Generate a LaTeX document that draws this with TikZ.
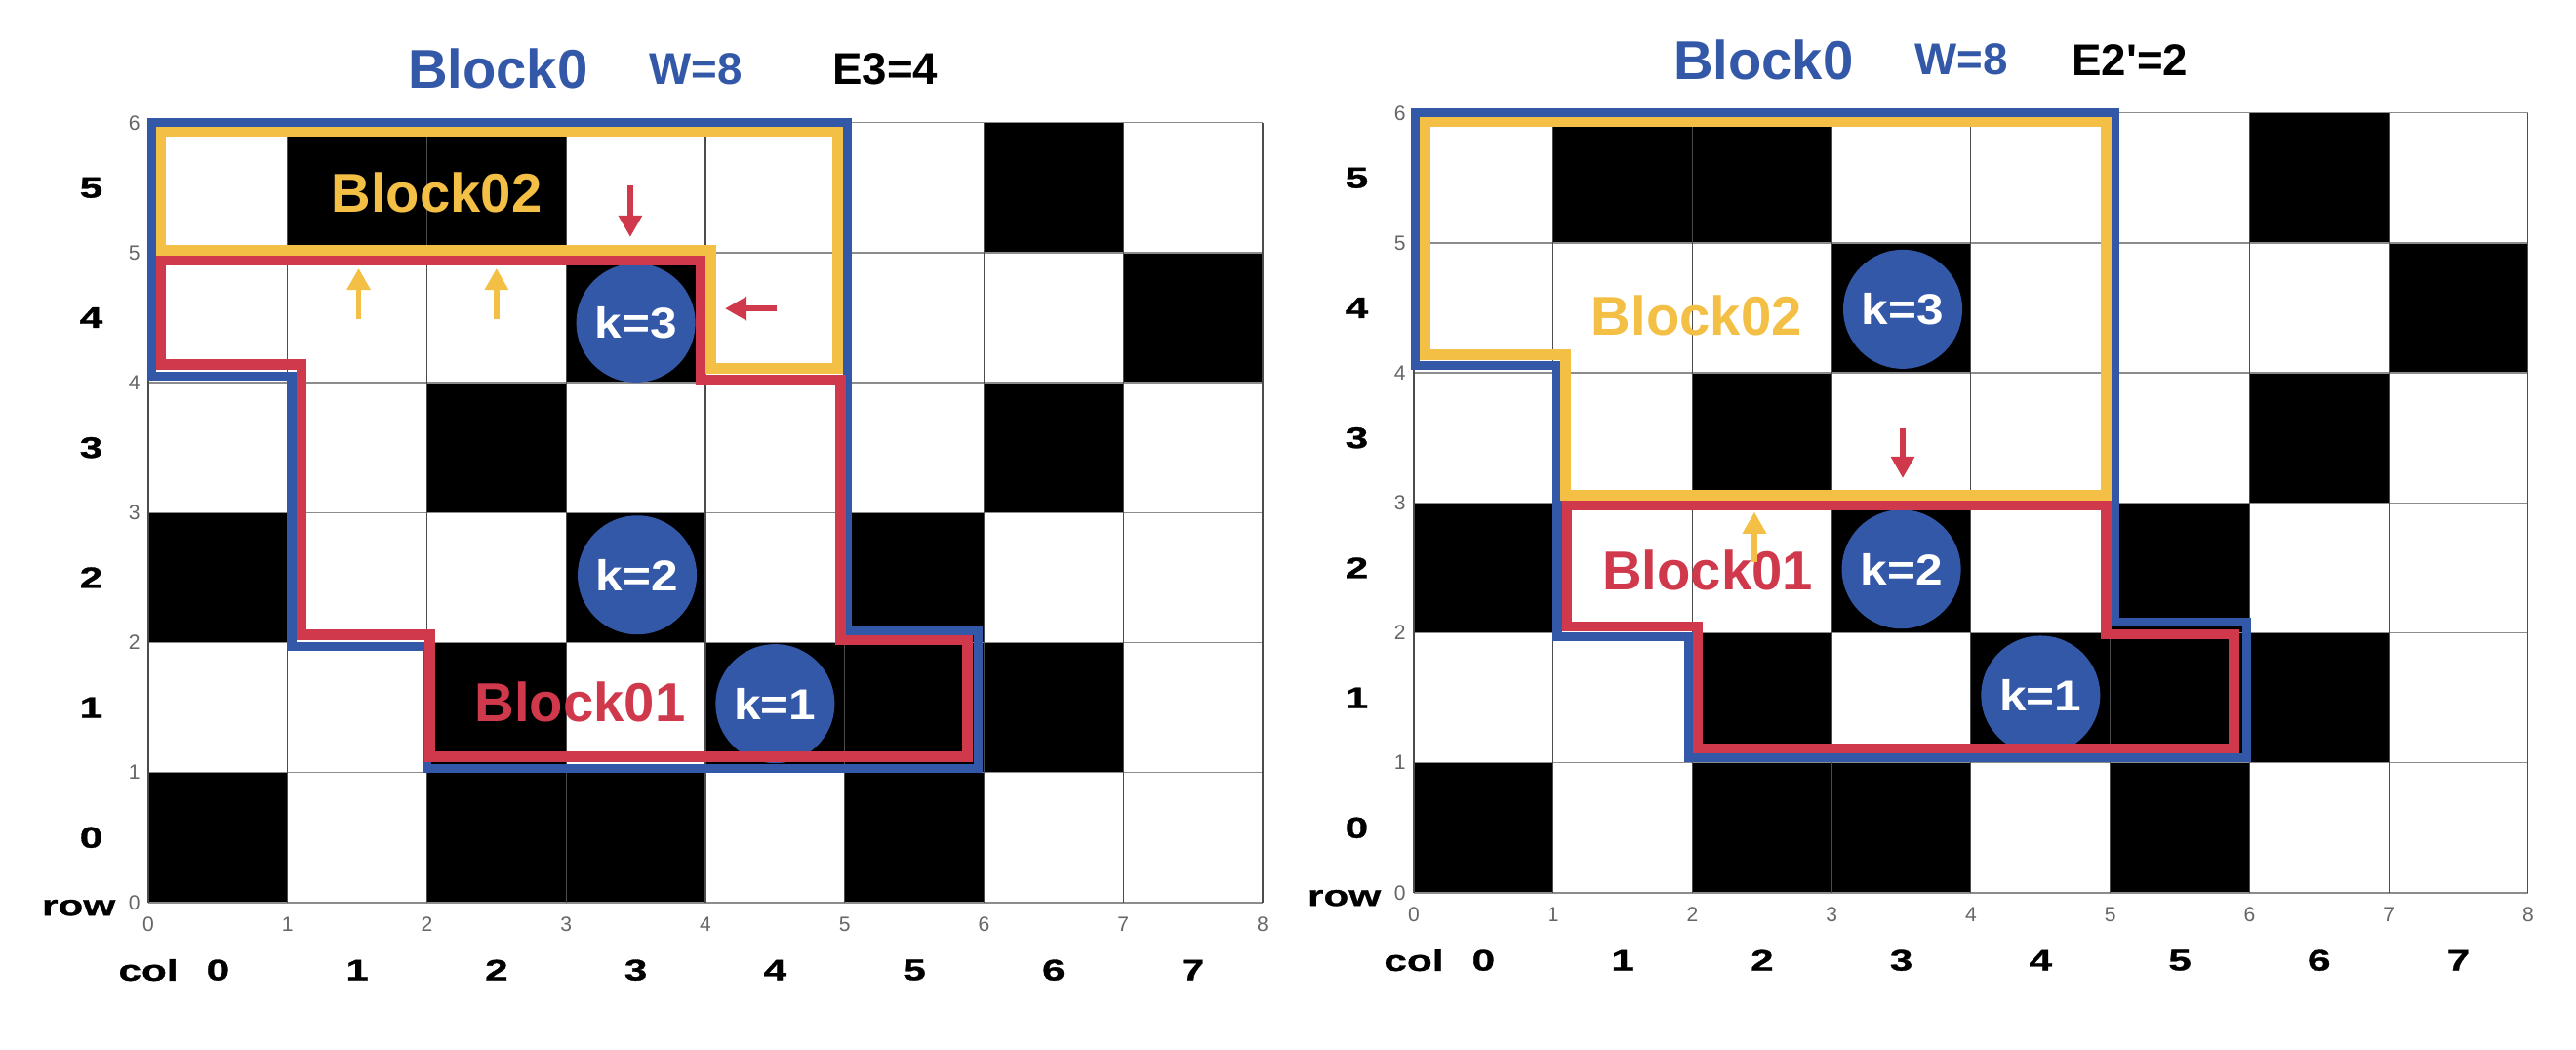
\documentclass[tikz,border=0pt]{standalone}
\usepackage{fontspec}
\setmainfont{Liberation Sans}
\newfontfamily\axisfont{Liberation Sans}[FakeStretch=1.4, FakeBold=1]
\newfontfamily\ballfont{Liberation Sans}[FakeStretch=1.12]
\usetikzlibrary{arrows.meta}

\definecolor{blkblue}{RGB}{52, 88, 168}
\definecolor{blkred}{RGB}{208, 56, 75}
\definecolor{blkyellow}{RGB}{243, 191, 69}

\tikzset{
    lab/.style={font=\axisfont\bfseries\fontsize{8.6}{10}\selectfont},
    tick/.style={text=black!60, font=\fontsize{6}{7}\selectfont, inner sep=0pt},
    kball/.style={circle, fill=blkblue, text=white, minimum size=1.22cm, inner sep=0pt, font=\ballfont\bfseries\fontsize{12.6}{14}\selectfont},
    blkname/.style={font=\bfseries\fontsize{16}{19}\selectfont},
    head/.style={font=\bfseries\fontsize{13}{16}\selectfont},
    out0/.style={draw=blkblue, line width=2.6pt},
    out1/.style={draw=blkred, line width=3pt},
    out2/.style={draw=blkyellow, line width=3pt},
    push/.style={line width=1.6pt, -{Triangle[length=6.3pt, width=6.6pt]}},
}

% board with its grid, ticks and row / col labels
\newcommand{\board}{
    \foreach \cx/\ry in {1/5, 2/5, 6/5, 3/4, 7/4, 2/3, 6/3, 0/2, 3/2, 5/2, 2/1, 4/1, 5/1, 6/1, 0/0, 2/0, 3/0, 5/0}
        \fill (\cx, \ry) rectangle ++(1, 1);
    \foreach \ry in {0, ..., 6}
        \draw[black!45, line width=0.4pt] (0, \ry) -- (8, \ry);
    \foreach \cx in {0, ..., 8}
        \draw[black!70, line width=0.3pt] (\cx, 0) -- (\cx, 6);
    \foreach \cx in {0, ..., 8}
        \draw (\cx, -0.165) node[tick] (x\cx) {\cx};
    \foreach \ry in {0, ..., 6}
        \draw (-0.1, \ry) node[tick] (y\ry) {\ry};
    \foreach \ry in {0, ..., 5}
        \draw (-0.41, \ry + 0.5) node[lab] (row\ry) {\ry};
    \foreach \cx in {0, ..., 7}
        \draw (\cx + 0.5, -0.52) node[lab] (col\cx) {\cx};
    \draw (-0.5, -0.04) node[lab] (row) {row};
    \draw (0, -0.52) node[lab] (col) {col};
}

\begin{document}
\begin{tikzpicture}[x=1.4275cm, y=1.332cm]
    \useasboundingbox (-1.065, -1.134) rectangle (17.43, 6.944);

    \begin{scope}[name prefix=l]
        \board
        \draw (3.5, 4.46) node[kball] (k3) {k=3};
        \draw (3.51, 2.52) node[kball] (k2) {k=2};
        \draw (4.5, 1.53) node[kball] (k1) {k=1};

        \draw[out0] (0.025, 6) -- (5.02, 6) -- (5.02, 2.09) -- (5.96, 2.09) -- (5.96, 1.03) -- (2, 1.03) -- (2, 1.97) -- (1.03, 1.97) -- (1.03, 4.05) -- (0.025, 4.05) -- cycle;
        \draw[out1] (0.09, 4.94) -- (3.97, 4.94) -- (3.97, 4.02) -- (4.97, 4.02) -- (4.97, 2.02) -- (5.88, 2.02) -- (5.88, 1.12) -- (2.02, 1.12) -- (2.02, 2.06) -- (1.1, 2.06) -- (1.1, 4.14) -- (0.09, 4.14) -- cycle;
        \draw[out2] (0.09, 5.93) -- (4.95, 5.93) -- (4.95, 4.11) -- (4.04, 4.11) -- (4.04, 5.02) -- (0.09, 5.02) -- cycle;

        \draw (2.51, 6.415) node[blkname, text=blkblue] (b0) {Block0};
        \draw (3.93, 6.41) node[head, text=blkblue] (w) {W=8};
        \draw (5.29, 6.41) node[head] (e) {E3=4};
        \draw (2.07, 5.46) node[blkname, text=blkyellow] (b02) {Block02};
        \draw (3.1, 1.54) node[blkname, text=blkred] (b01) {Block01};

        \draw[push, blkred] (3.46, 5.52) -- (3.46, 5.12);
        \draw[push, blkred] (4.51, 4.57) -- (4.14, 4.57);
        \draw[push, blkyellow] (1.51, 4.49) -- (1.51, 4.88);
        \draw[push, blkyellow] (2.5, 4.49) -- (2.5, 4.88);
    \end{scope}

    \begin{scope}[shift={(9.086, 0.075)}, name prefix=r]
        \board
        \draw (3.51, 4.49) node[kball] (k3) {k=3};
        \draw (3.5, 2.49) node[kball] (k2) {k=2};
        \draw (4.5, 1.52) node[kball] (k1) {k=1};

        \draw[out0] (0.01, 6) -- (5.03, 6) -- (5.03, 2.08) -- (5.98, 2.08) -- (5.98, 1.04) -- (1.97, 1.04) -- (1.97, 1.97) -- (1.03, 1.97) -- (1.03, 4.06) -- (0.01, 4.06) -- cycle;
        \draw[out2] (0.08, 5.93) -- (4.97, 5.93) -- (4.97, 3.06) -- (1.09, 3.06) -- (1.09, 4.14) -- (0.08, 4.14) -- cycle;
        \draw[out1] (1.1, 2.98) -- (4.97, 2.98) -- (4.97, 1.99) -- (5.89, 1.99) -- (5.89, 1.11) -- (2.04, 1.11) -- (2.04, 2.05) -- (1.1, 2.05) -- cycle;

        \draw (2.51, 6.41) node[blkname, text=blkblue] (b0) {Block0};
        \draw (3.93, 6.41) node[head, text=blkblue] (w) {W=8};
        \draw (5.14, 6.41) node[head] (e) {E2\textquotesingle=2};
        \draw (2.03, 4.44) node[blkname, text=blkyellow] (b02) {Block02};
        \draw (2.11, 2.485) node[blkname, text=blkred] (b01) {Block01};

        \draw[push, blkred] (3.51, 3.57) -- (3.51, 3.19);
        \draw[push, blkyellow] (2.445, 2.545) -- (2.445, 2.93);
    \end{scope}
\end{tikzpicture}
\end{document}
